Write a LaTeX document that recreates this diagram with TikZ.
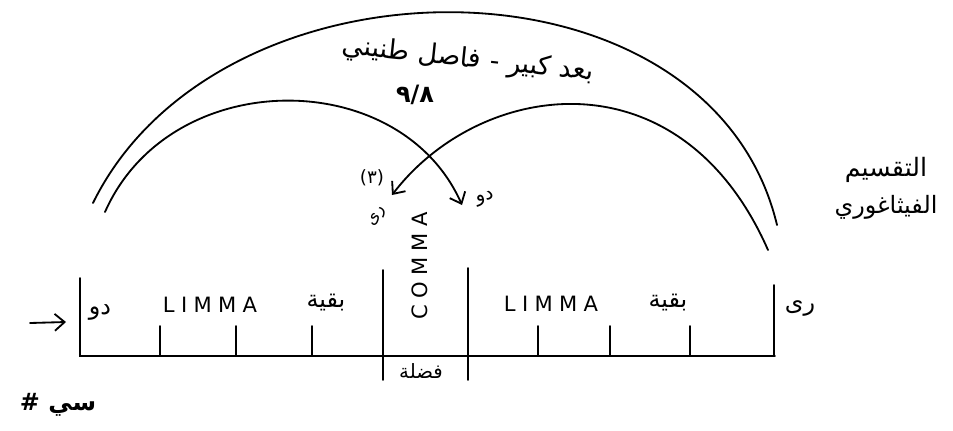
\documentclass[tikz,border=0pt]{standalone}
\usepackage{fontspec}
\setmainfont{DejaVu Sans}
\newfontfamily\arabicfont[Script=Arabic]{DejaVu Sans}
\newfontfamily\latinfont[LetterSpace=30]{DejaVu Sans}
\TeXXeTstate=1
\usepackage{tikz}
\usetikzlibrary{positioning, arrows.meta}

\tikzset{
  arabic/.style={font=\arabicfont\fontsize{17}{20}\selectfont, inner sep=0pt},
  latin/.style={font=\latinfont\fontsize{15}{18}\selectfont, inner sep=0pt},
  pen/.style={line width=1.3pt, line cap=round},
  barb/.style={pen, -{Straight Barb[length=7pt, width=12pt]}}
}

\begin{document}
\begin{tikzpicture}[x=0.025cm, y=-0.025cm]
\useasboundingbox (0,0) rectangle (953,430);

% the scale from do to re
\draw[pen] (80,278) -- (80,356) -- (775,356);
\draw[pen] (383,270) -- (383,380);
\draw[pen] (468,268) -- (468,380);
\draw[pen] (774,285) -- (774,356);
\foreach \tx in {160,236,312,538,610,690}
    \draw[pen] (\tx,326) -- (\tx,356);

\node[arabic] (do) at (100,312) {\beginR دو\endR};
\node[latin] (limmaA) at (210,305) {LIMMA};
\node[arabic] (baqiyaA) at (326,303) {\beginR بقية\endR};
\node[latin, rotate=90] (comma) at (420,266) {COMMA};
\node[arabic, font=\arabicfont\fontsize{14}{16}\selectfont] (fadla) at (421,371) {\beginR فضلة\endR};
\node[latin] (limmaB) at (551,304) {LIMMA};
\node[arabic] (baqiyaB) at (668,303) {\beginR بقية\endR};
\node[arabic] (re) at (800,308) {\beginR رى\endR};

\coordinate (inTail) at (30,323);
\coordinate (inHead) at (66,322);
\draw[barb] (inTail) -- (inHead);

% the arcs
\coordinate (bigL) at (93,203);
\coordinate (bigR) at (777,225);
\draw[pen] (bigL) .. controls (220,-55) and (710,-55) .. (bigR);

\coordinate (doStart) at (105,212);
\coordinate (doTip) at (462,205);
\draw[barb] (doStart) .. controls (170,65) and (400,65) .. (doTip);

\coordinate (reStart) at (768,250);
\coordinate (reTip) at (392,195);
\draw[barb] (reStart) .. controls (680,50) and (480,80) .. (reTip);

\node[arabic, rotate=-6, font=\arabicfont\fontsize{19}{22}\selectfont] (title) at (468,60) {\beginR بعد كبير - فاصل طنيني\endR};
\node[arabic, font=\arabicfont\bfseries\fontsize{17}{20}\selectfont] (ratio) at (415,95) {٩/٨};
\node[arabic, font=\arabicfont\fontsize{13}{16}\selectfont] (three) at (372,178) {(٣)};
\node[arabic, font=\arabicfont\fontsize{14}{16}\selectfont, rotate=15] (doLbl) at (485,199) {\beginR دو\endR};
\node[arabic, font=\arabicfont\fontsize{12}{14}\selectfont, rotate=60] (reLbl) at (378,217) {\beginR رى\endR};

\node[arabic, font=\arabicfont\fontsize{18}{20}\selectfont] (pythA) at (886,170) {\beginR التقسيم\endR};
\node[arabic] (pythB) at (886,207) {\beginR الفيثاغوري\endR};

\node[arabic, font=\arabicfont\bfseries\fontsize{17}{20}\selectfont] (siSharp) at (58,405) {\beginR سي \#\endR};
\end{tikzpicture}
\end{document}
